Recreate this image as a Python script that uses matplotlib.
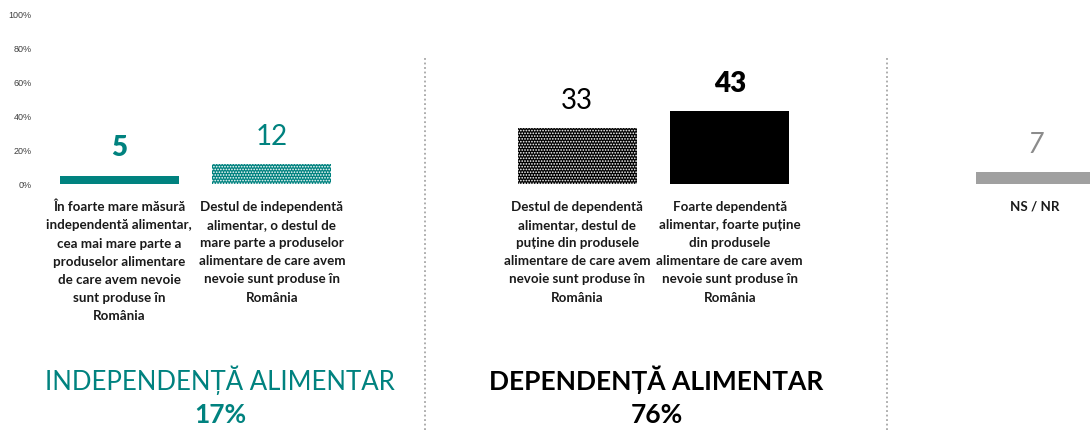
import matplotlib
matplotlib.use("Agg")
import matplotlib.pyplot as plt
import matplotlib.transforms as mtransforms

plt.rcParams['font.family'] = ['Lato', 'DejaVu Sans']
plt.rcParams['hatch.linewidth'] = 0.8

positions = [0, 1, 3, 4, 6]
values = [5, 12, 33, 43, 7]
categories = [
    "În foarte mare măsură\nindependentă alimentar,\ncea mai mare parte a\nproduselor alimentare\nde care avem nevoie\nsunt produse în\nRomânia",
    "Destul de independentă\nalimentar, o destul de\nmare parte a produselor\nalimentare de care avem\nnevoie sunt produse în\nRomânia",
    "Destul de dependentă\nalimentar, destul de\npuține din produsele\nalimentare de care avem\nnevoie sunt produse în\nRomânia",
    "Foarte dependentă\nalimentar, foarte puține\ndin produsele\nalimentare de care avem\nnevoie sunt produse în\nRomânia",
    "NS / NR",
]
value_labels = ["5", "12", "33", "43", "7"]
group_titles = ["INDEPENDENȚĂ ALIMENTAR", "DEPENDENȚĂ ALIMENTAR"]
group_totals = ["17%", "76%"]
yticks = [0, 20, 40, 60, 80, 100]

TEAL = "#00827f"
bar_colors = [TEAL, TEAL, "#000000", "#000000", "#a0a0a0"]
hatches = [None, "......", "......", None, None]
label_colors = [TEAL, TEAL, "#000000", "#000000", "#8c8c8c"]
label_weights = ["heavy", "normal", "normal", "heavy", "normal"]
label_styles = ["normal", "normal", "normal", "normal", "italic"]

fig = plt.figure(figsize=(10.9, 4.3), dpi=100)
ax = fig.add_axes([43/1090, (430-184)/430, 1 - 43/1090, 170/430])

for p, v, c, h in zip(positions, values, bar_colors, hatches):
    ax.bar(p, v, width=0.78, color=c, hatch=h,
           edgecolor="white" if h else c, linewidth=0, clip_on=True)

for p, v, t, c, w, s in zip(positions, values, value_labels, label_colors, label_weights, label_styles):
    ax.annotate(t, (p, v), xytext=(0, 19.5), textcoords="offset points",
                ha="center", va="center", fontsize=20, color=c,
                fontweight=w, fontstyle=s)

ax.set_xlim(-0.5, 6.36)
ax.set_ylim(0, 100)
ax.set_yticks(yticks)
ax.set_yticklabels([f"{t}%" for t in yticks], fontsize=6.5, color="#404040",
                   family=["Liberation Sans", "DejaVu Sans"])
ax.tick_params(axis="y", length=0, pad=8)
ax.set_xticks(positions)
ax.set_xticklabels(categories, fontsize=9.6, fontweight="bold", color="#1a1a1a",
                   linespacing=1.62)
ax.tick_params(axis="x", length=0, pad=12)
for sp in ax.spines.values():
    sp.set_visible(False)

# dotted separators
trans = mtransforms.blended_transform_factory(ax.transData, fig.transFigure)
for x in [2, 5.03]:
    ax.plot([x, x], [0, (430-56)/430], transform=trans, color="#a6a6a6",
            linestyle=(0, (1, 1.5)), linewidth=1.3, clip_on=False)

# group titles
ax.text(0.66, (430-380)/430, group_titles[0], transform=trans, ha="center", va="center",
        fontsize=18.5, color=TEAL, fontweight="normal")
ax.text(0.66, (430-415)/430, group_totals[0], transform=trans, ha="center", va="center",
        fontsize=19, color=TEAL, fontweight="bold")
ax.text(3.52, (430-380)/430, group_titles[1], transform=trans, ha="center", va="center",
        fontsize=19, color="#000000", fontweight="bold")
ax.text(3.52, (430-415)/430, group_totals[1], transform=trans, ha="center", va="center",
        fontsize=19, color="#000000", fontweight="bold")

fig.savefig("out.png", dpi=100)
